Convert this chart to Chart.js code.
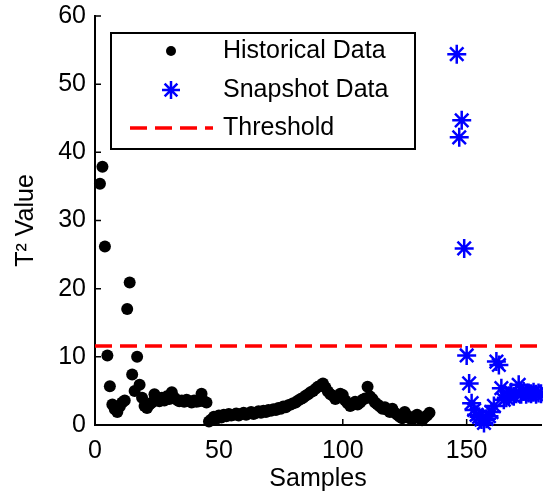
<!DOCTYPE html>
<html>
<head>
<meta charset="UTF-8">
<title>T2 Value</title>
<script src="https://cdn.jsdelivr.net/npm/chart.js@4.4.0/dist/chart.umd.min.js"></script>
<style>
body {
	margin: 0;
	background: #fff;
}
#wrap {
	width: 543px;
	height: 494px;
}
</style>
</head>
<body>
<div id="wrap"><canvas id="t2Chart" width="543" height="494"></canvas></div>
<script>
// historical samples start at sample 2, one value per sample
var histStart = 2;
var histValues = [35.4, 37.9, 26.2, 10.2, 5.7, 3.0, 2.3, 1.9, 2.7, 3.3,
	3.6, 17.0, 20.9, 7.4, 5.0, 10.0, 5.9, 4.0, 2.8, 2.5,
	3.0, 3.3, 4.5, 3.8, 3.5, 4.0, 3.6, 4.2, 3.8, 4.8,
	4.0, 3.7, 3.5, 3.6, 3.4, 3.7, 3.5, 3.3, 3.6, 3.4,
	3.5, 4.6, 3.5, 3.3, 0.5, 0.8, 1.2, 1.0, 1.4, 1.1,
	1.5, 1.3, 1.6, 1.4, 1.5, 1.7, 1.4, 1.6, 1.8, 1.5,
	1.7, 1.9, 1.6, 1.8, 2.0, 1.8, 2.1, 1.9, 2.2, 2.1,
	2.3, 2.2, 2.5, 2.4, 2.7, 2.6, 2.9, 3.0, 3.2, 3.3,
	3.6, 3.8, 4.0, 4.3, 4.5, 4.8, 5.0, 5.3, 5.6, 5.8,
	6.1, 5.5, 4.9, 4.5, 4.3, 3.8, 4.1, 4.6, 4.4, 3.6,
	3.2, 2.8, 3.0, 3.4, 3.0, 3.3, 3.7, 3.9, 5.6, 4.2,
	3.8, 3.3, 3.0, 2.7, 2.4, 2.6, 2.2, 1.9, 2.4, 1.8,
	1.5, 1.2, 1.0, 1.9, 1.4, 1.0, 0.8, 1.2, 1.5, 1.0,
	0.7, 1.1, 1.4, 1.8];

// snapshot samples start at sample 146
var snapStart = 146;
var snapValues = [54.4, 42.2, 44.7, 25.9, 10.2, 6.1, 3.2, 2.2, 1.5, 1.2,
	0.8, 0.3, 0.9, 1.3, 1.9, 2.8, 9.3, 8.8, 5.4, 3.7,
	4.0, 4.3, 4.8, 4.2, 4.6, 5.9, 4.5, 4.9, 4.5, 4.7,
	4.6, 4.8, 4.5, 4.7, 4.6];

var thresholdValue = 11.6;
var xTicks = [0, 50, 100, 150];
var yTicks = [0, 10, 20, 30, 40, 50, 60];
var xRange = [0, 180];
var yRange = [0, 60];
var legendLabels = ["Historical Data", "Snapshot Data", "Threshold"];

var histPoints = [];
for (var i = 0; i < histValues.length; i++) {
	histPoints.push({x: histStart + i, y: histValues[i]});
}
var snapPoints = [];
for (var j = 0; j < snapValues.length; j++) {
	snapPoints.push({x: snapStart + j, y: snapValues[j]});
}
var threshPoints = [{x: xRange[0], y: thresholdValue}, {x: xRange[1], y: thresholdValue}];

var fontName = "'Liberation Sans', Arial, sans-serif";
var fontSize = 25;

// matlab style tick marks pointing into the axes
var inwardTicks = {
	id: 'inwardTicks',
	afterDraw: function(chart) {
		var ctx = chart.ctx;
		var xs = chart.scales.x;
		var ys = chart.scales.y;
		var area = chart.chartArea;
		ctx.save();
		ctx.strokeStyle = '#000';
		ctx.lineWidth = 1.5;
		ctx.beginPath();
		xTicks.forEach(function(v) {
			var px = xs.getPixelForValue(v);
			ctx.moveTo(px, area.bottom);
			ctx.lineTo(px, area.bottom - 6);
		});
		yTicks.forEach(function(v) {
			var py = ys.getPixelForValue(v);
			ctx.moveTo(area.left, py);
			ctx.lineTo(area.left + 6, py);
		});
		ctx.stroke();
		ctx.restore();
	}
};

// legend box inside the axes, top left
var boxLegend = {
	id: 'boxLegend',
	afterDraw: function(chart) {
		var ctx = chart.ctx;
		var ds = chart.data.datasets;
		var bx = 111, by = 33, bw = 304, bh = 116;
		ctx.save();
		ctx.fillStyle = '#fff';
		ctx.fillRect(bx, by, bw, bh);
		ctx.strokeStyle = '#000';
		ctx.lineWidth = 2;
		ctx.strokeRect(bx, by, bw, bh);

		var rows = [51, 90, 128];
		var mx = 171;
		Chart.helpers.drawPoint(ctx, {pointStyle: 'circle', radius: 5, rotation: 0, borderWidth: 0}, mx, rows[0]);
		ctx.fillStyle = ds[0].backgroundColor;
		ctx.fill();

		ctx.strokeStyle = ds[1].borderColor;
		ctx.lineWidth = ds[1].pointBorderWidth;
		Chart.helpers.drawPoint(ctx, {pointStyle: 'star', radius: 9, rotation: 0, borderWidth: ds[1].pointBorderWidth}, mx, rows[1]);

		ctx.beginPath();
		ctx.strokeStyle = ds[2].borderColor;
		ctx.lineWidth = ds[2].borderWidth;
		ctx.setLineDash(ds[2].borderDash);
		ctx.moveTo(130, rows[2]);
		ctx.lineTo(213, rows[2]);
		ctx.stroke();
		ctx.setLineDash([]);

		ctx.fillStyle = '#000';
		ctx.font = fontSize + 'px ' + fontName;
		ctx.textBaseline = 'middle';
		ctx.textAlign = 'left';
		for (var k = 0; k < legendLabels.length; k++) {
			ctx.fillText(legendLabels[k], 223, rows[k]);
		}
		ctx.restore();
	}
};

var ctx = document.getElementById("t2Chart");
var t2Chart = new Chart(ctx, {
	type: 'scatter',
	data: {
		datasets: [{
			label: legendLabels[0],
			data: histPoints,
			pointStyle: 'circle',
			pointRadius: 6,
			backgroundColor: '#000',
			borderWidth: 0,
			clip: false
		}, {
			label: legendLabels[1],
			data: snapPoints,
			pointStyle: 'star',
			pointRadius: 9.5,
			borderColor: '#0000ff',
			backgroundColor: '#0000ff',
			pointBorderWidth: 2.5,
			clip: false
		}, {
			label: legendLabels[2],
			type: 'line',
			data: threshPoints,
			borderColor: '#ff0000',
			borderWidth: 3.5,
			borderDash: [17, 8],
			pointRadius: 0,
			fill: false
		}]
	},
	options: {
		responsive: false,
		animation: false,
		devicePixelRatio: 1,
		layout: {
			autoPadding: false,
			padding: {left: 0, top: 13, right: 2, bottom: 0}
		},
		plugins: {
			legend: {display: false},
			tooltip: {enabled: false}
		},
		scales: {
			x: {
				type: 'linear',
				min: xRange[0],
				max: xRange[1],
				grid: {display: false},
				border: {display: true, color: '#000', width: 2},
				afterBuildTicks: function(scale) {
					scale.ticks = xTicks.map(function(v) { return {value: v}; });
				},
				afterFit: function(scale) { scale.height = 69; },
				ticks: {
					color: '#000',
					padding: 3,
					maxRotation: 0,
					font: {family: fontName, size: fontSize}
				},
				title: {
					display: true,
					text: 'Samples',
					color: '#000',
					padding: {top: 0, bottom: 0},
					font: {family: fontName, size: fontSize}
				}
			},
			y: {
				type: 'linear',
				min: yRange[0],
				max: yRange[1],
				grid: {display: false},
				border: {display: true, color: '#000', width: 2},
				afterBuildTicks: function(scale) {
					scale.ticks = yTicks.map(function(v) { return {value: v}; });
				},
				afterFit: function(scale) { scale.width = 95; },
				ticks: {
					color: '#000',
					padding: 1,
					font: {family: fontName, size: fontSize}
				},
				title: {
					display: true,
					text: 'T\u00B2 Value',
					color: '#000',
					padding: {top: 11, bottom: 0},
					font: {family: fontName, size: fontSize}
				}
			}
		}
	},
	plugins: [inwardTicks, boxLegend]
});
</script>
</body>
</html>
